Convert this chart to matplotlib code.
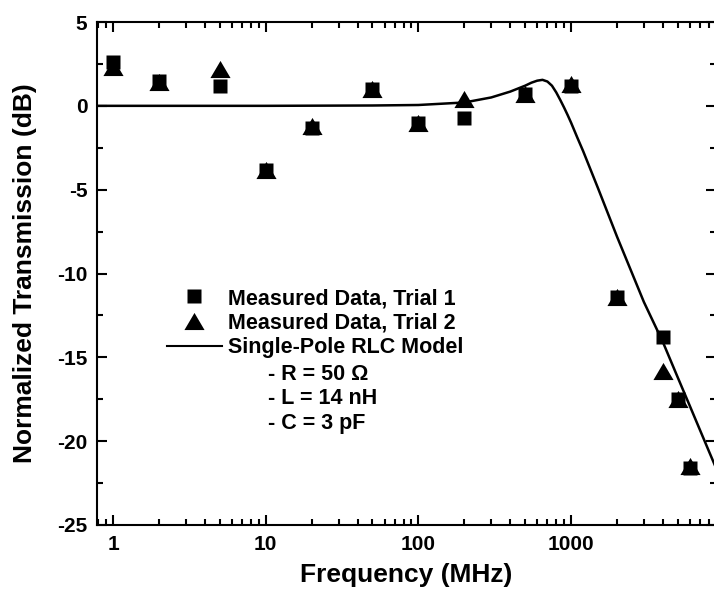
import matplotlib
matplotlib.use('Agg')
import matplotlib.pyplot as plt
import matplotlib.ticker as ticker
from matplotlib.lines import Line2D

plt.rcParams['font.family'] = ['Liberation Sans', 'DejaVu Sans']
plt.rcParams['font.weight'] = 'bold'
plt.rcParams['axes.labelweight'] = 'bold'
plt.rcParams['axes.unicode_minus'] = False

# measured data (MHz, dB)
freq = [1, 2, 5, 10, 20, 50, 100, 200, 500, 1000, 2000, 4000, 5000, 6000]
trial1 = [2.6, 1.5, 1.2, -3.8, -1.3, 1.0, -1.0, -0.7, 0.7, 1.2, -11.4, -13.8, -17.5, -21.6]
trial2 = [2.3, 1.4, 2.2, -3.8, -1.2, 1.0, -1.0, 0.4, 0.7, 1.3, -11.4, -15.8, -17.5, -21.5]

# model curve
model_freq = [0.785, 10, 50, 100, 200, 300, 400, 500, 550, 600, 650, 700, 750,
              800, 850, 900, 950, 1000, 1100, 1200, 1500, 2000, 3000, 4000,
              5000, 6000, 8000, 9000]
model_db = [0.0, 0.0, 0.02, 0.05, 0.2, 0.5, 0.85, 1.2, 1.38, 1.5, 1.55, 1.45,
            1.2, 0.8, 0.35, -0.1, -0.55, -1.0, -1.9, -2.7, -4.9, -7.8, -11.7,
            -14.1, -16.2, -17.9, -20.6, -21.7]

# slightly flattened triangle, like the original markers
tri = [(-1, -0.85), (1, -0.85), (0, 0.85)]

fig = plt.figure(figsize=(7.14, 5.91), dpi=100)
ax = fig.add_axes([97 / 714, 66 / 591, 619 / 714, 503 / 591])

ax.plot(model_freq, model_db, color='black', lw=1.8, zorder=2)
ax.plot(freq, trial1, 's', color='black', ms=10, mec='none', zorder=3)
ax.plot(freq, trial2, ls='none', marker=tri, color='black', ms=14.5,
        mec='none', zorder=3)

ax.set_xscale('log')
ax.set_xlim(0.785, 8902)
ax.set_ylim(-25, 5)
ax.set_yticks([5, 0, -5, -10, -15, -20, -25])
ax.yaxis.set_minor_locator(ticker.MultipleLocator(2.5))
ax.xaxis.set_major_locator(ticker.FixedLocator([1, 10, 100, 1000]))
ax.xaxis.set_minor_locator(ticker.LogLocator(base=10, subs=range(2, 10)))
ax.xaxis.set_major_formatter(ticker.FuncFormatter(lambda v, _: f'{v:g}'))
ax.xaxis.set_minor_formatter(ticker.NullFormatter())

ax.tick_params(which='both', direction='in', top=True, right=True, width=1.5,
               labelsize=15, pad=7)
ax.tick_params(which='major', length=7)
ax.tick_params(which='minor', length=4)
for s in ax.spines.values():
    s.set_linewidth(1.5)

ax.set_xlabel('Frequency (MHz)', fontsize=19, labelpad=7)
ax.set_ylabel('Normalized Transmission (dB)', fontsize=19, labelpad=14)

handles = [
    Line2D([], [], marker='s', ls='none', color='black', ms=10, mec='none'),
    Line2D([], [], marker=tri, ls='none', color='black', ms=14.5, mec='none'),
    Line2D([], [], color='black', lw=1.5),
]
labels = ['Measured Data, Trial 1', 'Measured Data, Trial 2',
          'Single-Pole RLC Model']
fig.legend(handles, labels, loc='upper left',
           bbox_to_anchor=(167 / 714, 1 - 288 / 591), frameon=False,
           fontsize=15.5, handlelength=2.55, handletextpad=0.3,
           labelspacing=0.17, borderpad=0, borderaxespad=0)

params = ['- R = 50 Ω', '- L = 14 nH', '- C = 3 pF']
for i, p in enumerate(params):
    fig.text(268 / 714, 1 - (374 + 25 * i) / 591, p, fontsize=15.5,
             va='center', ha='left')

fig.savefig('out.png', dpi=100)
